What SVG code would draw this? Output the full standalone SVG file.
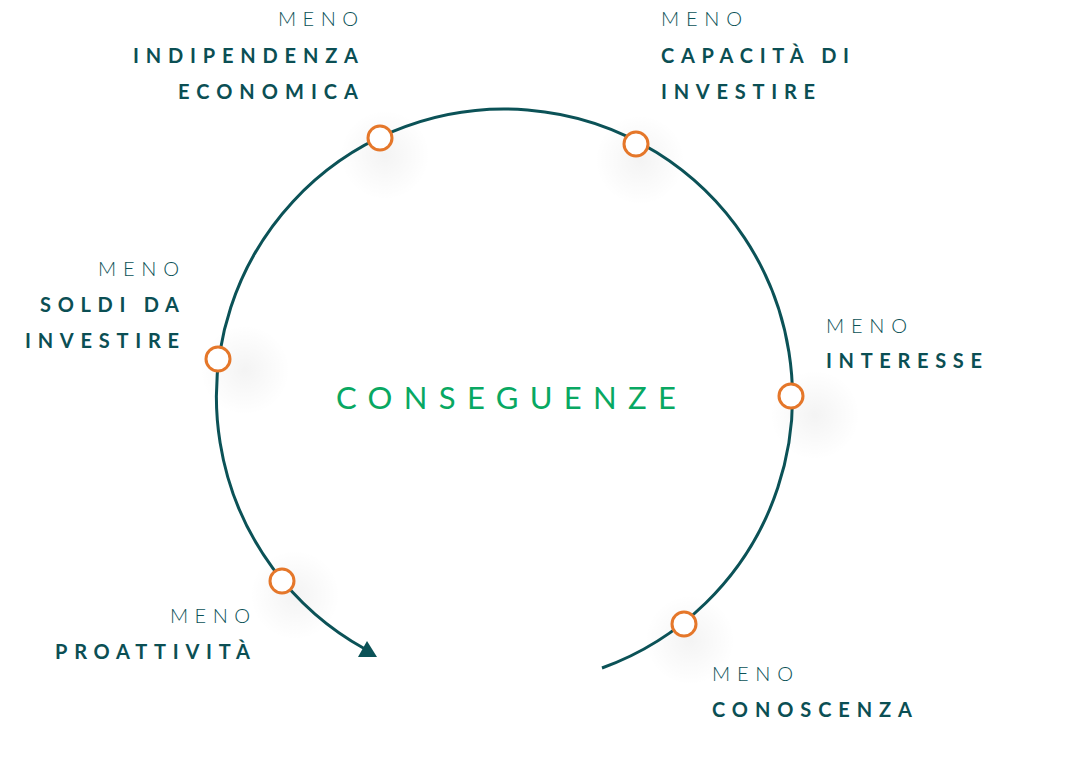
<svg xmlns="http://www.w3.org/2000/svg" width="1065" height="767" viewBox="0 0 1065 767">
  <defs>
    <radialGradient id="glow">
      <stop offset="0" stop-color="#000" stop-opacity="0.045"/>
      <stop offset="1" stop-color="#000" stop-opacity="0"/>
    </radialGradient>
    <style>
      .arc { fill: none; stroke: #0B5257; stroke-width: 3; }
      .dot { fill: #fff; stroke: #E5772A; stroke-width: 3; }
      .meno { font-family: Lato, "Open Sans", sans-serif; font-weight: 300; font-size: 20px; fill: #0B5257; }
      .lbl { font-family: Lato, "Open Sans", sans-serif; font-weight: 700; font-size: 20px; fill: #0B4F54; }
      .title { font-family: Lato, "Open Sans", sans-serif; font-weight: 400; font-size: 31px; fill: #08A862; }
      .glow { fill: url(#glow); }
    </style>
  </defs>
  <rect width="1065" height="767" fill="#fff"/>

  <g id="shadows">
    <circle class="glow" cx="385" cy="155" r="45"/>
    <circle class="glow" cx="640" cy="160" r="45"/>
    <circle class="glow" cx="245" cy="370" r="45"/>
    <circle class="glow" cx="815" cy="415" r="45"/>
    <circle class="glow" cx="295" cy="595" r="45"/>
    <circle class="glow" cx="690" cy="640" r="45"/>
  </g>

  <g id="connectors">
    <path class="arc" d="M 602 668 A 288 288 0 1 0 365 649"/>
    <polygon points="358,657 377,657 367,641" fill="#0B5257"/>
  </g>

  <g id="title">
    <text class="title" x="336" y="409" textLength="340" lengthAdjust="spacing">CONSEGUENZE</text>
  </g>

  <g id="node-indipendenza">
    <circle class="dot" cx="380" cy="138" r="12"/>
    <text class="meno" x="278" y="26" textLength="80" lengthAdjust="spacing">MENO</text>
    <text class="lbl" x="133" y="63" textLength="225" lengthAdjust="spacing">INDIPENDENZA</text>
    <text class="lbl" x="178" y="99" textLength="180" lengthAdjust="spacing">ECONOMICA</text>
  </g>

  <g id="node-capacita">
    <circle class="dot" cx="636" cy="144" r="12"/>
    <text class="meno" x="661" y="26" textLength="81" lengthAdjust="spacing">MENO</text>
    <text class="lbl" x="661" y="63" textLength="188" lengthAdjust="spacing">CAPACITÀ DI</text>
    <text class="lbl" x="661" y="99" textLength="154" lengthAdjust="spacing">INVESTIRE</text>
  </g>

  <g id="node-soldi">
    <circle class="dot" cx="218" cy="359" r="12"/>
    <text class="meno" x="98" y="276" textLength="81" lengthAdjust="spacing">MENO</text>
    <text class="lbl" x="40" y="312" textLength="139" lengthAdjust="spacing">SOLDI DA</text>
    <text class="lbl" x="25" y="348" textLength="154" lengthAdjust="spacing">INVESTIRE</text>
  </g>

  <g id="node-interesse">
    <circle class="dot" cx="791" cy="396" r="12"/>
    <text class="meno" x="826" y="333" textLength="81" lengthAdjust="spacing">MENO</text>
    <text class="lbl" x="826" y="368" textLength="156" lengthAdjust="spacing">INTERESSE</text>
  </g>

  <g id="node-proattivita">
    <circle class="dot" cx="282" cy="581" r="12"/>
    <text class="meno" x="170" y="623" textLength="80" lengthAdjust="spacing">MENO</text>
    <text class="lbl" x="55" y="659" textLength="195" lengthAdjust="spacing">PROATTIVITÀ</text>
  </g>

  <g id="node-conoscenza">
    <circle class="dot" cx="684" cy="624" r="12"/>
    <text class="meno" x="712" y="681" textLength="81" lengthAdjust="spacing">MENO</text>
    <text class="lbl" x="712" y="717" textLength="200" lengthAdjust="spacing">CONOSCENZA</text>
  </g>
</svg>
